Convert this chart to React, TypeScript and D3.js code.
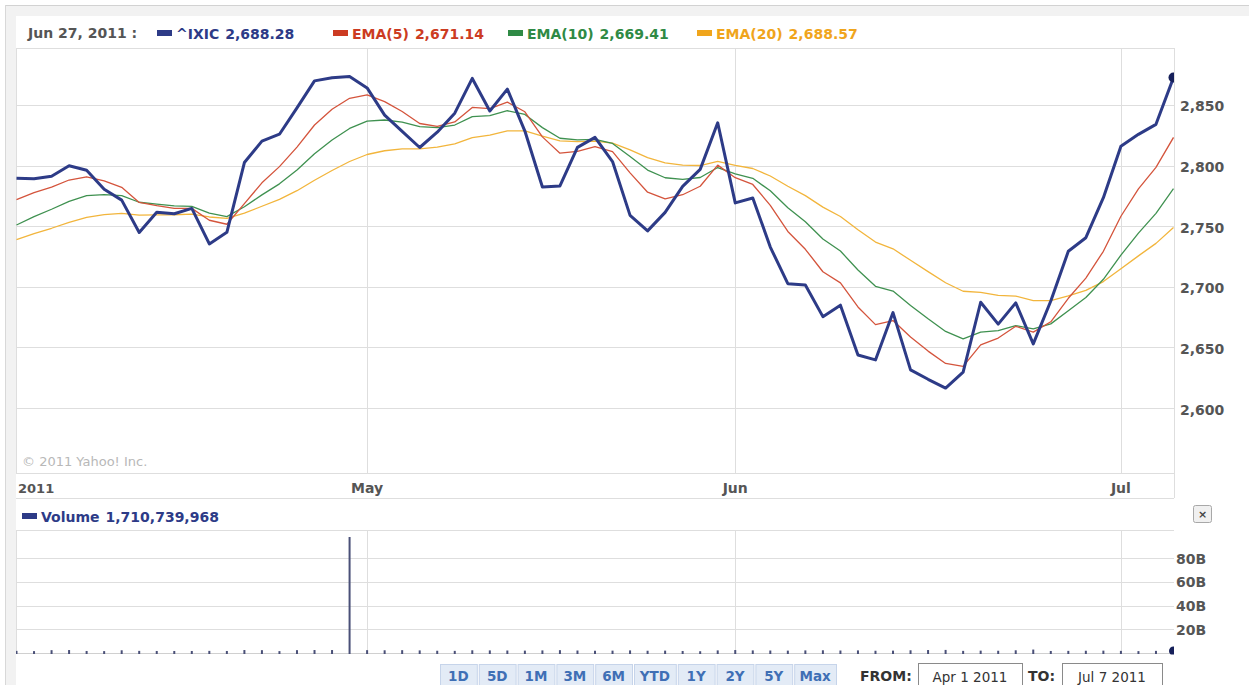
import React from 'react';
import * as d3 from 'd3';

// Trading days, Apr 1 – Jul 7 2011 (month-day)
const tradingDays = [
  '04-01', '04-04', '04-05', '04-06', '04-07', '04-08', '04-11', '04-12', '04-13', '04-14',
  '04-15', '04-18', '04-19', '04-20', '04-21', '04-25', '04-26', '04-27', '04-28', '04-29',
  '05-02', '05-03', '05-04', '05-05', '05-06', '05-09', '05-10', '05-11', '05-12', '05-13',
  '05-16', '05-17', '05-18', '05-19', '05-20', '05-23', '05-24', '05-25', '05-26', '05-27',
  '05-31', '06-01', '06-02', '06-03', '06-06', '06-07', '06-08', '06-09', '06-10', '06-13',
  '06-14', '06-15', '06-16', '06-17', '06-20', '06-21', '06-22', '06-23', '06-24', '06-27',
  '06-28', '06-29', '06-30', '07-01', '07-05', '07-06', '07-07',
];

// ^IXIC daily close
const ixic = [
  2789.6, 2789.19, 2791.19, 2799.82, 2796.14, 2780.42, 2771.51, 2744.79, 2761.52, 2760.22,
  2764.65, 2735.38, 2744.97, 2802.51, 2820.16, 2825.88, 2847.54, 2869.88, 2872.53, 2873.54,
  2864.08, 2841.62, 2828.23, 2814.92, 2827.56, 2843.25, 2871.89, 2845.06, 2863.04, 2828.47,
  2782.31, 2783.21, 2815.0, 2823.31, 2803.32, 2758.9, 2746.16, 2761.38, 2782.91, 2796.86,
  2835.3, 2769.19, 2773.31, 2732.78, 2702.56, 2701.56, 2675.38, 2684.87, 2643.73, 2639.69,
  2678.72, 2631.46, 2623.7, 2616.48, 2629.66, 2687.26, 2669.19, 2686.75, 2652.89, 2688.28,
  2729.31, 2740.49, 2773.52, 2816.03, 2825.77, 2834.02, 2872.66,
];

const ema5 = [
  2772.0, 2777.73, 2782.22, 2788.09, 2790.77, 2787.32, 2782.05, 2769.63, 2766.93, 2764.69,
  2764.68, 2754.91, 2751.6, 2768.57, 2785.77, 2799.14, 2815.27, 2833.47, 2846.49, 2855.51,
  2858.37, 2852.79, 2844.6, 2834.71, 2832.33, 2835.97, 2847.94, 2846.98, 2852.33, 2844.38,
  2823.69, 2810.2, 2811.8, 2815.64, 2811.53, 2793.99, 2778.05, 2772.49, 2775.96, 2782.93,
  2800.39, 2789.99, 2784.43, 2767.21, 2745.66, 2730.96, 2712.43, 2703.24, 2683.4, 2668.83,
  2672.13, 2658.57, 2646.95, 2636.79, 2634.41, 2652.03, 2657.75, 2667.42, 2662.58, 2671.14,
  2690.54, 2707.19, 2729.3, 2758.21, 2780.73, 2798.49, 2823.21,
];

const ema10 = [
  2751.0, 2757.94, 2763.99, 2770.5, 2775.16, 2776.12, 2775.28, 2769.74, 2768.25, 2766.79,
  2766.4, 2760.76, 2757.89, 2766.0, 2775.85, 2784.95, 2796.33, 2809.7, 2821.12, 2830.65,
  2836.73, 2837.62, 2835.91, 2832.09, 2831.27, 2833.45, 2840.44, 2841.28, 2845.24, 2842.19,
  2831.3, 2822.56, 2821.19, 2821.58, 2818.26, 2807.47, 2796.32, 2789.97, 2788.69, 2790.18,
  2798.38, 2793.07, 2789.48, 2779.17, 2765.24, 2753.66, 2739.43, 2729.51, 2713.91, 2700.42,
  2696.47, 2684.65, 2673.57, 2663.19, 2657.09, 2662.58, 2663.78, 2667.96, 2665.22, 2669.41,
  2680.3, 2691.24, 2706.2, 2726.17, 2744.28, 2760.6, 2780.97,
];

const ema20 = [
  2739.0, 2743.78, 2748.3, 2753.21, 2757.3, 2759.5, 2760.64, 2759.13, 2759.36, 2759.44,
  2759.94, 2757.6, 2756.4, 2760.79, 2766.44, 2772.1, 2779.28, 2787.91, 2795.97, 2803.36,
  2809.14, 2812.23, 2813.75, 2813.86, 2815.16, 2817.84, 2822.99, 2825.09, 2828.7, 2828.68,
  2824.26, 2820.35, 2819.84, 2820.17, 2818.57, 2812.89, 2806.53, 2802.23, 2800.39, 2800.05,
  2803.41, 2800.15, 2797.59, 2791.42, 2782.96, 2775.21, 2765.7, 2758.0, 2747.12, 2736.89,
  2731.35, 2721.84, 2712.49, 2703.35, 2696.33, 2695.47, 2692.97, 2692.38, 2688.62, 2688.57,
  2692.45, 2697.03, 2704.31, 2714.95, 2725.5, 2735.84, 2748.87,
];

// Daily volume, billions of shares
const volumeB = [
  1.8, 1.6, 2.4, 2.5, 1.7, 1.6, 2.3, 1.8, 1.7, 1.7,
  1.7, 1.8, 1.7, 2.5, 2.4, 1.6, 2.4, 2.5, 2.5, 97.7,
  2.4, 2.3, 2.4, 2.2, 1.9, 1.8, 2.3, 2.2, 2.1, 2.0,
  2.2, 2.4, 2.1, 1.9, 2.0, 2.2, 1.9, 2.0, 1.7, 1.5,
  2.2, 2.5, 2.2, 2.1, 2.0, 2.2, 2.3, 2.1, 2.2, 1.9,
  2.0, 2.3, 2.5, 2.6, 1.8, 2.0, 1.9, 2.3, 2.9, 1.710739968,
  1.8, 1.9, 2.0, 1.8, 1.6, 1.8, 2.2,
];

const priceTicks = [2600, 2650, 2700, 2750, 2800, 2850];
const volumeTicks = [20, 40, 60, 80];
const seriesNames = ['^IXIC', 'EMA(5)', 'EMA(10)', 'EMA(20)'];
const seriesData = [ixic, ema5, ema10, ema20];
const rangeButtons = ['1D', '5D', '1M', '3M', '6M', 'YTD', '1Y', '2Y', '5Y', 'Max'];
const fromLabel = 'Apr 1 2011';
const toLabel = 'Jul 7 2011';
const copyright = '\u00a9 2011 Yahoo! Inc.';
const focusDay = '06-27';

// ---- styling -------------------------------------------------------------
const FONT = '"DejaVu Sans", Verdana, sans-serif';
const GRID = '#dedede';
const lineColors = ['#2d3b87', '#d4543c', '#3f9150', '#f2b53c'];
const legendColors = ['#2d3b87', '#cc3b22', '#2f8a45', '#f0a51c'];
const lineWidths = [3, 1.3, 1.3, 1.3];
const legendX = [157, 333, 508, 697];

const W = 1249;
const H = 685;
const plot = { left: 16, right: 1174, top: 48, bottom: 473 };
const vol = { top: 530, bottom: 653 };

const parseDay = d3.timeParse('%Y-%m-%d');
const days = tradingDays.map((d) => parseDay('2011-' + d) as Date);
const fmtLegendDate = d3.timeFormat('%b %-d, %Y');
const fmtPrice = d3.format(',.2f');
const fmtInt = d3.format(',');

export default function App() {
  const n = ixic.length;
  const x = d3.scaleLinear().domain([0, n - 1]).range([16.5, 1173.5]);
  const y = d3.scaleLinear().domain([2546.4, 2897]).range([plot.bottom, plot.top]);
  const yv = d3.scaleLinear().domain([0, 103.6]).range([vol.bottom, vol.top]);

  const lineGen = d3
    .line<number>()
    .x((_, i) => x(i))
    .y((d) => y(d));

  // first trading day of each month
  const monthStarts: number[] = [];
  days.forEach((d, i) => {
    if (i === 0 || d.getMonth() !== days[i - 1].getMonth()) monthStarts.push(i);
  });
  const monthLabel = (i: number) => (i === 0 ? d3.timeFormat('%Y')(days[i]) : d3.timeFormat('%b')(days[i]));

  const fi = tradingDays.indexOf(focusDay);

  // range buttons laid out left to right
  let bx = 440;
  const buttons = rangeButtons.map((label) => {
    const w = 26.8 + 5 * label.length;
    const b = { label, x: bx, w };
    bx += w + 2;
    return b;
  });

  return (
    <div style={{ position: 'absolute', left: 0, top: 0 }}>
      <svg width={W} height={H} style={{ display: 'block', fontFamily: FONT }}>
        <defs>
          <clipPath id="plotClip">
            <rect x={plot.left} y={plot.top} width={plot.right - plot.left} height={plot.bottom - plot.top} />
          </clipPath>
          <clipPath id="volClip">
            <rect x={plot.left} y={vol.top} width={plot.right - plot.left} height={vol.bottom - vol.top + 1.5} />
          </clipPath>
        </defs>

        <rect x={0} y={0} width={W} height={H} fill="#ffffff" />
        {/* outer frame */}
        <rect x={5} y={5} width={W - 5} height={11} fill="#f2f2f2" />
        <rect x={5} y={5} width={11} height={H - 5} fill="#f2f2f2" />
        <line x1={5} x2={W} y1={5.5} y2={5.5} stroke="#d2d2d2" />
        <line x1={5.5} x2={5.5} y1={5} y2={H} stroke="#d8d8d8" />

        {/* legend */}
        <text x={28} y={38} fontSize={14} fontWeight="bold" fill="#555">
          {fmtLegendDate(days[fi])} :
        </text>
        {seriesNames.map((name, k) => (
          <g key={name}>
            <rect x={legendX[k]} y={30} width={15} height={6} fill={legendColors[k]} />
            <text x={legendX[k] + 19} y={38.5} fontSize={14} fontWeight="bold" fill={legendColors[k]}>
              {name}
              <tspan dx={6}>{fmtPrice(seriesData[k][fi])}</tspan>
            </text>
          </g>
        ))}

        {/* price panel grid */}
        <rect x={plot.left + 0.5} y={plot.top + 0.5} width={plot.right - plot.left} height={plot.bottom - plot.top} fill="#fff" stroke={GRID} />
        {priceTicks.map((t) => (
          <line key={t} x1={plot.left} x2={plot.right} y1={Math.round(y(t)) + 0.5} y2={Math.round(y(t)) + 0.5} stroke={GRID} />
        ))}
        {monthStarts
          .filter((i) => i > 0)
          .map((i) => (
            <line key={i} x1={Math.round(x(i)) + 0.5} x2={Math.round(x(i)) + 0.5} y1={plot.top} y2={plot.bottom} stroke={GRID} />
          ))}

        <text x={22} y={466} fontSize={13} fill="#b8b8b8">
          {copyright}
        </text>

        <g clipPath="url(#plotClip)">
          {[3, 2, 1, 0].map((k) => (
            <path
              key={k}
              d={lineGen(seriesData[k]) || ''}
              fill="none"
              stroke={lineColors[k]}
              strokeWidth={lineWidths[k]}
              strokeLinejoin="round"
            />
          ))}
          <circle cx={x(n - 1)} cy={y(ixic[n - 1])} r={5} fill="#16205a" />
        </g>

        {/* price axis */}
        {priceTicks.map((t) => (
          <text key={t} x={1180} y={y(t) + 6.5} fontSize={14} fontWeight="bold" fill="#555">
            {fmtInt(t)}
          </text>
        ))}

        {/* date strip */}
        <line x1={plot.left} x2={plot.right} y1={498.5} y2={498.5} stroke={GRID} />
        <line x1={plot.right + 0.5} x2={plot.right + 0.5} y1={plot.top} y2={498} stroke={GRID} />
        {monthStarts.map((i) => (
          <text
            key={i}
            x={i === 0 ? 18 : x(i)}
            y={493}
            fontSize={i === 0 ? 13 : 14}
            fontWeight="bold"
            fill="#555"
            textAnchor={i === 0 ? 'start' : 'middle'}
          >
            {monthLabel(i)}
          </text>
        ))}

        {/* volume legend */}
        <rect x={22} y={513} width={15} height={6} fill={lineColors[0]} />
        <text x={41} y={521.5} fontSize={14} fontWeight="bold" fill="#2d3b87">
          Volume
          <tspan dx={6}>{fmtInt(Math.round(volumeB[fi] * 1e9))}</tspan>
        </text>
        <rect x={1193.5} y={505.5} width={18} height={17} rx={2} fill="#f0f0f0" stroke="#a8a8a8" />
        <text x={1202.5} y={518} fontSize={11} fontWeight="bold" fill="#444" textAnchor="middle">
          ×
        </text>

        {/* volume panel */}
        <line x1={plot.left} x2={plot.right} y1={vol.top + 0.5} y2={vol.top + 0.5} stroke={GRID} />
        <line x1={plot.left + 0.5} x2={plot.left + 0.5} y1={vol.top} y2={vol.bottom} stroke={GRID} />
        {volumeTicks.map((t) => (
          <line key={t} x1={plot.left} x2={plot.right} y1={Math.round(yv(t)) + 0.5} y2={Math.round(yv(t)) + 0.5} stroke={GRID} />
        ))}
        {monthStarts
          .filter((i) => i > 0)
          .map((i) => (
            <line key={i} x1={Math.round(x(i)) + 0.5} x2={Math.round(x(i)) + 0.5} y1={vol.top} y2={vol.bottom} stroke={GRID} />
          ))}
        <line x1={plot.left} x2={plot.right} y1={vol.bottom + 0.5} y2={vol.bottom + 0.5} stroke="#d0d0d0" />
        <g clipPath="url(#volClip)">
          {volumeB.map((v, i) => (
            <rect key={i} x={x(i) - 1} y={yv(v)} width={2} height={vol.bottom + 1 - yv(v)} fill="#4a5078" />
          ))}
          <circle cx={x(n - 1)} cy={vol.bottom - 2} r={4.5} fill="#16205a" />
        </g>
        {volumeTicks.map((t) => (
          <text key={t} x={1176} y={yv(t) + 5.5} fontSize={14} fontWeight="bold" fill="#555">
            {t}B
          </text>
        ))}

        {/* range buttons */}
        {buttons.map((b) => (
          <g key={b.label}>
            <rect x={b.x + 0.5} y={664.5} width={b.w} height={26} fill="#e3ebf6" stroke="#c6d4ea" />
            <text x={b.x + b.w / 2} y={681} fontSize={13.5} fontWeight="bold" fill="#3f6fb5" textAnchor="middle">
              {b.label}
            </text>
          </g>
        ))}
        <text x={860} y={681} fontSize={14} fontWeight="bold" fill="#333">
          FROM:
        </text>
        <rect x={918.5} y={663.5} width={104} height={28} fill="#fff" stroke="#8a8a8a" />
        <text x={970} y={681.5} fontSize={13.5} fill="#333" textAnchor="middle">
          {fromLabel}
        </text>
        <text x={1028} y={681} fontSize={14} fontWeight="bold" fill="#333">
          TO:
        </text>
        <rect x={1062.5} y={663.5} width={100} height={28} fill="#fff" stroke="#8a8a8a" />
        <text x={1112} y={681.5} fontSize={13.5} fill="#333" textAnchor="middle">
          {toLabel}
        </text>
      </svg>
    </div>
  );
}
